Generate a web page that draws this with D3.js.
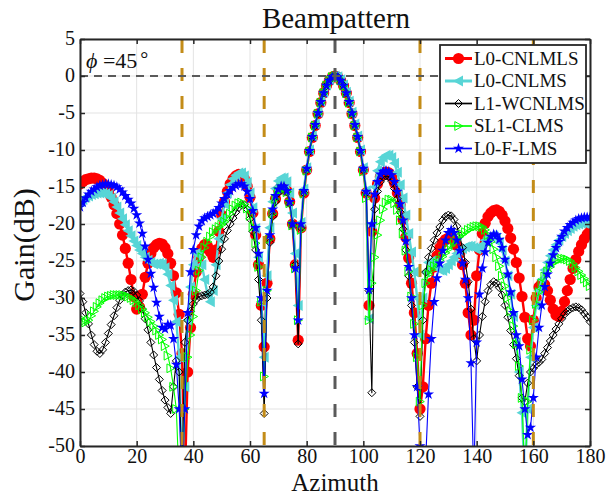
<!DOCTYPE html>
<html><head><meta charset="utf-8">
<script src="https://cdn.jsdelivr.net/npm/d3@7"></script>
<style>body{margin:0;background:#fff}svg{display:block}text{font-family:"Liberation Serif","Times New Roman",serif;fill:#111}</style>
</head><body><svg id="c" width="607" height="496"></svg>
<script>
// ---------------- data (gain in dB at azimuth 0..180, 1 degree step) ----------------
const azimuth = d3.range(0, 181, 1);
const L0_CNLMLS = [-14.6,-14.3,-14.0,-13.9,-13.8,-13.8,-13.9,-14.1,-14.5,-15.0,-15.6,-16.4,-17.4,-18.6,-20.0,-21.5,-23.3,-25.3,-27.5,-29.8,
-31.5,-31.2,-29.5,-27.2,-25.3,-24.0,-23.2,-22.8,-22.6,-22.7,-23.2,-24.0,-25.3,-27.0,-29.3,-32.2,-37.5,-55,-40,-34,
-29.5,-26.5,-24.5,-23.3,-22.8,-23.0,-23.8,-24.5,-23.5,-21.0,-18.8,-17.0,-15.6,-14.6,-13.9,-13.5,-13.3,-13.4,-13.9,-14.9,
-16.4,-18.5,-21.5,-25.5,-31.0,-36.6,-28.0,-22.0,-18.6,-16.6,-15.4,-14.9,-14.9,-15.5,-17.0,-20.0,-25.5,-35.7,-20.5,-15.8,
-12.7,-10.2,-8.3,-6.7,-5.1,-3.6,-2.3,-1.3,-0.6,-0.15,0,-0.15,-0.6,-1.3,-2.3,-3.6,-5.1,-6.7,-8.3,-10.2,
-12.7,-15.8,-31,-21,-16.5,-14.6,-13.6,-13.1,-13.0,-13.1,-13.6,-14.5,-15.8,-17.4,-19.4,-21.8,-24.6,-28.0,-32.0,-37.5,
-45.0,-42.0,-35.5,-31.0,-28.0,-25.8,-24.3,-23.2,-22.5,-22.1,-21.9,-21.9,-22.2,-22.9,-24.0,-25.5,-28.0,-32.0,-35.0,-33.0,
-27.0,-23.5,-21.3,-19.9,-19.0,-18.5,-18.2,-18.1,-18.3,-18.8,-19.6,-20.6,-21.9,-23.4,-25.2,-27.3,-29.8,-32.6,-35.5,-36.5,
-33.0,-30.0,-28.5,-28.0,-28.2,-29.0,-30.3,-31.5,-32.3,-32.5,-31.8,-30.5,-29.0,-27.5,-26.0,-24.8,-23.7,-22.8,-22.0,-21.4,-20.9];
const L0_CNLMS = [-17.0,-16.7,-16.4,-16.2,-16.0,-15.9,-15.8,-15.8,-15.8,-15.9,-16.1,-16.5,-17.0,-17.7,-18.5,-19.3,-20.1,-20.9,-21.6,-22.3,
-22.9,-23.5,-24.0,-24.5,-24.9,-25.2,-25.4,-25.4,-25.3,-25.4,-25.9,-26.8,-28.3,-30.3,-33.2,-38.0,-55,-42.0,-33.0,-28.5,
-25.5,-24.0,-24.2,-25.5,-27.5,-29.5,-30.5,-29.0,-25.5,-22.0,-19.3,-17.3,-15.8,-14.7,-13.9,-13.4,-13.1,-13.1,-13.5,-14.4,
-15.8,-17.8,-20.6,-24.5,-30.5,-38.0,-27.0,-20.5,-17.0,-15.2,-14.2,-13.8,-13.8,-14.3,-15.8,-18.5,-24.0,-31.0,-19.8,-15.3,
-12.4,-10.0,-8.1,-6.5,-4.9,-3.4,-2.2,-1.2,-0.5,-0.1,0,-0.1,-0.5,-1.2,-2.2,-3.4,-4.9,-6.5,-8.1,-10.0,
-12.4,-15.5,-32.8,-20.0,-15.0,-12.8,-11.6,-11.0,-10.7,-10.7,-11.0,-11.8,-13.0,-14.7,-16.5,-18.8,-21.3,-23.8,-26.5,-30.0,
-35.0,-30.0,-26.5,-25.2,-25.0,-25.3,-25.8,-26.2,-26.3,-26.0,-25.5,-25.0,-24.5,-24.0,-23.6,-23.3,-23.1,-23.0,-23.0,-23.2,
-23.4,-23.3,-22.8,-22.2,-21.8,-21.6,-21.6,-21.9,-22.5,-23.5,-25.0,-27.0,-29.5,-32.5,-36.0,-40.0,-45.5,-55,-45.0,-38.0,
-34.0,-31.0,-29.0,-27.5,-26.2,-25.2,-24.3,-23.5,-22.8,-22.2,-21.7,-21.3,-20.9,-20.6,-20.3,-20.1,-20.0,-19.9,-19.9,-20.0,-20.1];
const L1_WCNLMS = [-29.4,-30.5,-32.0,-33.5,-35.0,-36.3,-37.2,-37.5,-37.0,-36.0,-34.8,-33.6,-32.4,-31.3,-30.3,-29.6,-29.2,-29.0,-28.9,-29.1,
-29.6,-30.4,-31.5,-32.8,-34.3,-36.0,-37.7,-39.4,-41.0,-42.5,-43.8,-44.8,-45.6,-42.0,-38.5,-40.0,-55,-36.0,-33.0,-31.8,
-30.8,-30.2,-29.8,-29.7,-29.6,-29.5,-29.2,-28.5,-27.0,-25.0,-23.4,-22.0,-20.9,-20.0,-19.2,-18.4,-17.8,-17.4,-17.4,-18.0,
-19.3,-21.0,-23.5,-27.5,-33.0,-45.6,-30.0,-22.5,-19.0,-17.0,-15.8,-15.3,-15.2,-15.6,-17.2,-20.0,-25.5,-36.2,-20.5,-15.8,
-12.7,-10.2,-8.3,-6.7,-5.1,-3.6,-2.3,-1.3,-0.6,-0.15,0,-0.15,-0.6,-1.3,-2.3,-3.6,-5.1,-6.7,-8.3,-10.2,
-12.7,-15.8,-29.0,-42.8,-18.0,-15.6,-14.3,-13.7,-13.5,-13.6,-14.2,-15.2,-16.6,-18.4,-20.7,-23.5,-27.0,-31.0,-36.0,-42.0,
-46.0,-33.0,-26.5,-24.5,-23.3,-22.2,-21.2,-20.4,-19.5,-19.0,-18.8,-18.9,-19.4,-20.3,-21.6,-23.2,-25.2,-27.8,-31.5,-35.5,
-38.5,-35.0,-32.5,-30.5,-29.0,-28.2,-27.8,-28.0,-28.6,-29.6,-31.0,-32.6,-34.4,-36.3,-38.2,-40.5,-43.5,-44.0,-41.5,-40.0,
-39.5,-39.0,-38.7,-38.3,-37.5,-36.7,-35.8,-35.0,-34.2,-33.5,-32.8,-32.2,-31.8,-31.5,-31.3,-31.2,-31.3,-31.6,-32.1,-32.6,-33.2];
const SL1_CLMS = [-32.7,-33.2,-33.3,-33.0,-32.4,-31.8,-31.2,-30.7,-30.3,-30.0,-29.8,-29.7,-29.6,-29.6,-29.6,-29.6,-29.7,-29.8,-30.0,-30.3,
-30.6,-31.0,-31.5,-32.0,-32.6,-33.2,-33.8,-34.4,-35.0,-35.6,-36.5,-37.8,-39.5,-42.0,-45.0,-55,-55,-45.0,-38.0,-35.0,
-32.5,-29.0,-26.3,-24.5,-23.2,-22.4,-21.7,-21.1,-20.7,-20.4,-20.1,-19.7,-19.2,-18.6,-18.0,-17.5,-17.2,-17.1,-17.3,-17.9,
-18.9,-20.4,-22.6,-25.8,-30.5,-40.6,-29.0,-22.0,-18.6,-16.6,-15.6,-15.2,-15.2,-15.7,-17.2,-20.2,-26.0,-33.0,-20.8,-15.9,
-12.8,-10.2,-8.3,-6.7,-5.1,-3.6,-2.3,-1.3,-0.6,-0.15,0,-0.15,-0.6,-1.3,-2.3,-3.6,-5.1,-6.7,-8.3,-10.2,
-12.9,-16.5,-33.0,-28.0,-24.5,-21.5,-19.5,-18.0,-17.1,-16.7,-16.7,-17.2,-18.1,-19.5,-21.3,-23.6,-26.4,-29.8,-33.5,-38.0,
-44.0,-31.0,-28.0,-26.8,-26.2,-25.7,-25.3,-24.9,-24.4,-23.9,-23.4,-22.9,-22.5,-22.1,-21.7,-21.4,-21.1,-20.8,-20.6,-20.4,
-20.3,-20.3,-20.4,-20.8,-21.5,-22.4,-23.4,-24.5,-25.7,-27.0,-28.4,-30.0,-31.8,-33.8,-36.2,-39.2,-43.5,-55,-44.0,-37.0,
-33.0,-30.8,-29.2,-28.0,-27.1,-26.4,-25.8,-25.3,-25.0,-24.8,-24.7,-24.7,-24.8,-25.0,-25.4,-25.9,-26.4,-26.9,-27.4,-27.9,-28.4];
const L0_F_LMS = [-17.7,-17.1,-16.5,-16.0,-15.6,-15.3,-15.0,-14.8,-14.7,-14.6,-14.6,-14.7,-14.8,-15.0,-15.3,-15.7,-16.2,-16.7,-17.2,-17.9,
-18.8,-19.9,-21.3,-23.0,-24.8,-26.7,-28.6,-30.6,-32.5,-34.0,-34.2,-33.6,-33.7,-35.5,-39.0,-45.0,-55,-45.0,-32.0,-26.5,
-23.5,-21.5,-20.3,-19.6,-19.2,-19.0,-18.8,-18.6,-18.3,-17.8,-17.2,-16.6,-16.0,-15.5,-15.1,-14.8,-14.6,-14.6,-14.9,-15.6,
-16.6,-18.2,-20.5,-24.0,-30.0,-42.9,-29.0,-21.5,-18.0,-16.2,-15.3,-14.9,-14.9,-15.5,-17.0,-20.0,-26.0,-33.0,-20.0,-15.5,
-12.5,-10.1,-8.2,-6.6,-5.0,-3.5,-2.3,-1.3,-0.6,-0.15,0,-0.15,-0.6,-1.3,-2.3,-3.5,-5.0,-6.6,-8.2,-10.1,
-12.5,-15.6,-28.9,-20.0,-16.0,-14.3,-13.3,-12.9,-12.8,-12.9,-13.4,-14.3,-15.6,-17.3,-19.5,-22.3,-25.8,-30.0,-35.0,-42.0,
-50.0,-55,-52.0,-43.0,-35.5,-30.5,-27.3,-25.3,-23.6,-22.2,-21.2,-20.8,-21.2,-22.2,-23.6,-25.3,-27.5,-30.0,-38.8,-55,
-36.0,-29.5,-26.0,-23.8,-22.5,-21.7,-21.4,-21.5,-22.1,-23.2,-24.8,-26.8,-29.2,-32.0,-35.0,-36.5,-41.0,-45.0,-48.5,-47.5,
-43.5,-38.0,-34.0,-31.0,-28.5,-26.8,-25.3,-24.2,-23.2,-22.4,-21.7,-21.0,-20.5,-20.1,-19.8,-19.5,-19.3,-19.2,-19.1,-19.1,-19.1];

const seriesNames = ["L0-CNLMLS","L0-CNLMS","L1-WCNLMS","SL1-CLMS","L0-F-LMS"];
const seriesValues = [L0_CNLMLS, L0_CNLMS, L1_WCNLMS, SL1_CLMS, L0_F_LMS];
const xTicks = [0,20,40,60,80,100,120,140,160,180];
const yTicks = [5,0,-5,-10,-15,-20,-25,-30,-35,-40,-45,-50];
const interferenceAz = [36,65,120,160];
const targetAz = 90;

// ---------------- styles ----------------
const styles = [
  {color:"#ff0000", lw:2.4, fill:"#ff0000", path:"M5.6,0A5.6,5.6 0 1,1 -5.6,0A5.6,5.6 0 1,1 5.6,0Z", mw:0},
  {color:"#58d5d6", lw:2.4, fill:"#58d5d6", path:"M-5.5,0L4.5,-5.5L4.5,5.5Z", mw:0},
  {color:"#000000", lw:1.1, fill:"none", path:"M0,-4L4,0L0,4L-4,0Z", mw:1},
  {color:"#00ff00", lw:1.1, fill:"none", path:"M4.3,0L-3.7,-4.4L-3.7,4.4Z", mw:1},
  {color:"#0000ff", lw:1.1, fill:"#0000ff", path:d3.symbol(d3.symbolStar, 38)(), mw:0}
];

const svg = d3.select("#c");
const L=80, R=590, T=39, B=446;
const x = d3.scaleLinear().domain([0,180]).range([L,R]);
const y = d3.scaleLinear().domain([-50,5]).range([B,T]);

svg.append("rect").attr("width",607).attr("height",496).attr("fill","#fff");
svg.append("defs").append("clipPath").attr("id","clip").append("rect")
  .attr("x",L).attr("y",T).attr("width",R-L).attr("height",B-T);

// grid
const grid = svg.append("g").attr("stroke","#e3e3e3").attr("stroke-width",1);
grid.selectAll(".gx").data(xTicks).join("line").attr("x1",d=>x(d)).attr("x2",d=>x(d)).attr("y1",T).attr("y2",B);
grid.selectAll(".gy").data(yTicks).join("line").attr("y1",d=>y(d)).attr("y2",d=>y(d)).attr("x1",L).attr("x2",R);

// data
const plot = svg.append("g").attr("clip-path","url(#clip)");
seriesValues.forEach((vals,i)=>{
  const st = styles[i];
  const pts = azimuth.map((a,k)=>[a, vals[k]]);
  const g = plot.append("g");
  g.append("path").datum(pts).attr("fill","none").attr("stroke",st.color).attr("stroke-width",st.lw)
    .attr("stroke-linejoin","round")
    .attr("d", d3.line().x(d=>x(d[0])).y(d=>y(d[1])));
  g.selectAll("path.m").data(pts).join("path").attr("class","m")
    .attr("transform",d=>`translate(${x(d[0])},${y(d[1])})`)
    .attr("d",st.path).attr("fill",st.fill)
    .attr("stroke",st.color).attr("stroke-width",st.mw||0.01);
});

// dashed reference lines
svg.append("g").selectAll("line").data(interferenceAz).join("line")
  .attr("x1",d=>x(d)).attr("x2",d=>x(d)).attr("y1",T+1).attr("y2",B)
  .attr("stroke","#c38c18").attr("stroke-width",3).attr("stroke-dasharray","13,15");
svg.append("line").attr("x1",x(targetAz)).attr("x2",x(targetAz)).attr("y1",T+1).attr("y2",B)
  .attr("stroke","#5a5a5a").attr("stroke-width",3).attr("stroke-dasharray","13,15");
svg.append("line").attr("x1",L).attr("x2",R).attr("y1",y(0)).attr("y2",y(0))
  .attr("stroke","#5a5a5a").attr("stroke-width",1.8).attr("stroke-dasharray","8,6");

// axes
function styleAxis(g){
  g.select(".domain").attr("stroke","#262626").attr("stroke-width",2);
  g.selectAll(".tick line").attr("stroke","#262626").attr("stroke-width",1.5);
  g.selectAll("text").attr("font-size",20).attr("fill","#111").attr("font-family","Liberation Serif");
}
svg.append("g").attr("transform",`translate(0,${B})`)
  .call(d3.axisBottom(x).tickValues(xTicks).tickSizeInner(-5).tickSizeOuter(0).tickPadding(3).tickFormat(d3.format("d")))
  .call(styleAxis);
svg.append("g").attr("transform",`translate(${L},0)`)
  .call(d3.axisLeft(y).tickValues(yTicks).tickSizeInner(-5).tickSizeOuter(0).tickPadding(5).tickFormat(d=>String(d)))
  .call(styleAxis).selectAll("text").attr("dy","0.25em");
svg.append("g").attr("transform",`translate(0,${T})`)
  .call(d3.axisTop(x).tickValues(xTicks).tickSizeInner(-5).tickSizeOuter(0).tickFormat(""))
  .call(styleAxis);
svg.append("g").attr("transform",`translate(${R},0)`)
  .call(d3.axisRight(y).tickValues(yTicks).tickSizeInner(-5).tickSizeOuter(0).tickFormat(""))
  .call(styleAxis);

// legend
const lg = svg.append("g");
lg.append("rect").attr("x",440).attr("y",45).attr("width",146).attr("height",118)
  .attr("fill","#fff").attr("stroke","#262626").attr("stroke-width",1.8);
seriesNames.forEach((name,i)=>{
  const st = styles[i];
  const yy = 58.5 + i*22.5;
  lg.append("line").attr("x1",445).attr("x2",472).attr("y1",yy).attr("y2",yy)
    .attr("stroke",st.color).attr("stroke-width",st.lw+0.6);
  lg.append("path").attr("transform",`translate(458.5,${yy})`).attr("d",st.path)
    .attr("fill",st.fill).attr("stroke",st.color).attr("stroke-width",st.mw||0.01);
  lg.append("text").attr("x",474).attr("y",yy).attr("dy","0.34em").attr("font-size",19).text(name);
});

// texts
svg.append("text").attr("x",336).attr("y",28).attr("text-anchor","middle").attr("font-size",29).text("Beampattern");
svg.append("text").attr("x",335).attr("y",490.5).attr("text-anchor","middle").attr("font-size",25).text("Azimuth");
svg.append("text").attr("transform","translate(34,245) rotate(-90)").attr("text-anchor","middle").attr("font-size",30).text("Gain(dB)");
const phi = svg.append("text").attr("x",86).attr("y",68).attr("font-size",22);
phi.append("tspan").attr("font-style","italic").text("\u03D5");
phi.append("tspan").text(" =45");
phi.append("tspan").attr("dx",3).attr("dy",-2).attr("font-size",20).text("\u00B0");
</script></body></html>
